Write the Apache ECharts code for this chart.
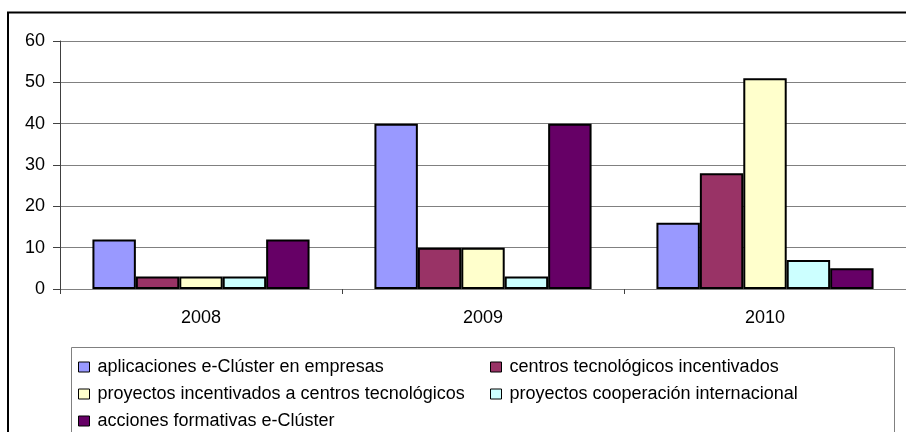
<!DOCTYPE html>
<html>
<head>
<meta charset="utf-8">
<script src="https://cdn.jsdelivr.net/npm/echarts@6/dist/echarts.min.js"></script>
<style>
  html, body { margin: 0; padding: 0; background: #fff; }
  #chart { width: 906px; height: 432px; }
</style>
</head>
<body>
<div id="chart"></div>
<script>
  // data
  var years = ['2008', '2009', '2010'];
  var seriesNames = [
    'aplicaciones e-Clúster en empresas',
    'centros tecnológicos incentivados',
    'proyectos incentivados a centros tecnológicos',
    'proyectos cooperación internacional',
    'acciones formativas e-Clúster'
  ];
  var aplicaciones = [12, 40, 16];
  var centros = [3, 10, 28];
  var proyectosIncent = [3, 10, 51];
  var cooperacion = [3, 3, 7];
  var acciones = [12, 40, 5];
  var colors = ['#9999FF', '#993366', '#FFFFCC', '#CCFFFF', '#660066'];

  var values = [aplicaciones, centros, proyectosIncent, cooperacion, acciones];
  var font = 'Arial, "Liberation Sans", sans-serif';

  let chart = echarts.init(document.getElementById('chart'));

  // legend laid out like the excel grid: two columns, three rows
  let legendPos = [[78, 358], [490, 358], [78, 385], [490, 385], [78, 412]];
  let legends = seriesNames.map(function (name, i) {
    return {
      data: [name],
      left: legendPos[i][0],
      top: legendPos[i][1],
      padding: 0,
      icon: 'rect',
      itemWidth: 11,
      itemHeight: 10,
      itemStyle: { borderColor: '#000', borderWidth: 1 },
      selectedMode: false,
      textStyle: { fontFamily: font, fontSize: 18, color: '#000', padding: [0, 0, 0, 3] }
    };
  });

  let series = seriesNames.map(function (name, i) {
    return {
      name: name,
      type: 'bar',
      data: values[i],
      barGap: '0%',
      barCategoryGap: '23%',
      itemStyle: { color: colors[i], borderColor: '#000', borderWidth: 2 },
      emphasis: { disabled: true }
    };
  });

  chart.setOption({
    animation: false,
    backgroundColor: '#fff',
    textStyle: { fontFamily: font },
    graphic: [
      {
        type: 'rect',
        shape: { x: 8, y: 12.5, width: 1000, height: 1000 },
        style: { fill: 'none', stroke: '#000', lineWidth: 2 }
      },
      {
        type: 'rect',
        shape: { x: 71.5, y: 347.5, width: 823, height: 200 },
        style: { fill: 'none', stroke: '#808080', lineWidth: 1 }
      }
    ],
    legend: legends,
    grid: { left: 60, top: 41, right: -3, bottom: 143 },
    xAxis: {
      type: 'category',
      data: years,
      axisLine: { lineStyle: { color: '#808080', width: 1 } },
      axisTick: { show: true, length: 5, lineStyle: { color: '#404040' } },
      axisLabel: { fontSize: 18, color: '#000', margin: 20 }
    },
    yAxis: {
      type: 'value',
      min: 0,
      max: 60,
      interval: 10,
      axisLine: { show: true, lineStyle: { color: '#404040', width: 1 } },
      axisTick: { show: true, length: 7, lineStyle: { color: '#404040' } },
      axisLabel: { fontSize: 18, color: '#000', margin: 15 },
      splitLine: { lineStyle: { color: '#808080', width: 1 } }
    },
    series: series
  });
</script>
</body>
</html>
